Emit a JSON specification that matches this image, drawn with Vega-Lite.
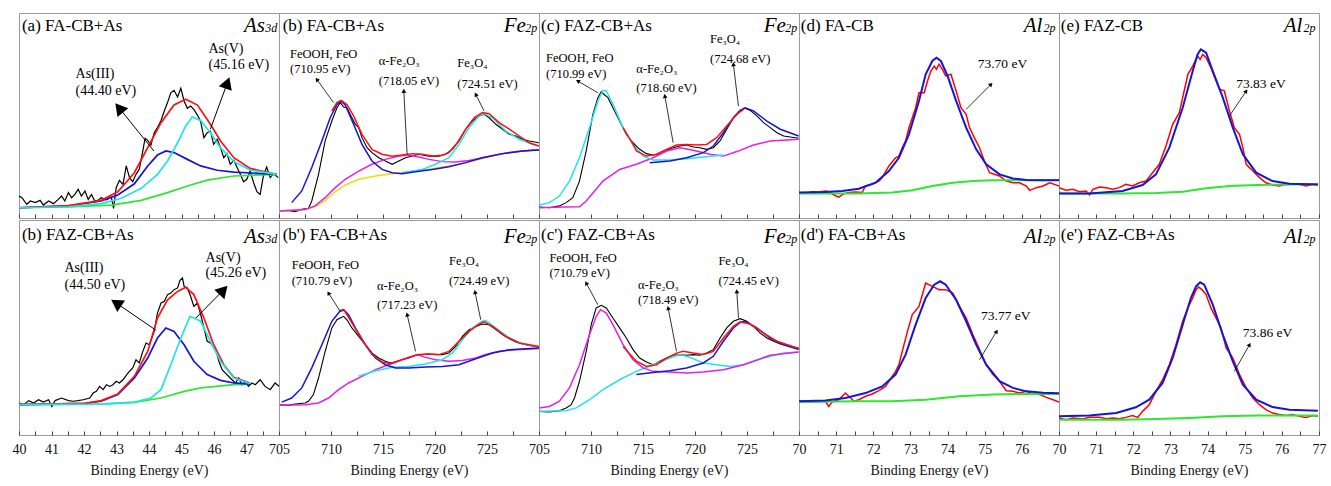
{
"$schema":"https://vega.github.io/schema/vega-lite/v6.json",
"background":"white",
"padding":{"left":11,"top":12,"right":0,"bottom":0},
"config":{"view":{"stroke":"#9a9a9a","strokeWidth":1},"axis":{"grid":false,"domain":false,"tickColor":"#444","tickWidth":1,"tickSize":-4,"labelFont":"Liberation Serif","labelFontSize":14,"labelColor":"#111","titleFont":"Liberation Serif","titleFontSize":14,"titleFontWeight":"normal","titleColor":"#111","labelFlush":false,"labelOverlap":false,"labelBound":false,"labelPadding":11,"titlePadding":7,"format":"d"}},
"datasets":{
"L":[
{"p":1,"s":"k","x":40.00,"y":10.7},{"p":1,"s":"k","x":40.09,"y":9.9},{"p":1,"s":"k","x":40.24,"y":6.7},{"p":1,"s":"k","x":40.35,"y":8.3},{"p":1,"s":"k","x":40.50,"y":7.5},{"p":1,"s":"k","x":40.65,"y":8.6},{"p":1,"s":"k","x":40.75,"y":6.3},{"p":1,"s":"k","x":40.91,"y":8.3},{"p":1,"s":"k","x":41.06,"y":7.0},{"p":1,"s":"k","x":41.21,"y":9.1},{"p":1,"s":"k","x":41.31,"y":10.7},{"p":1,"s":"k","x":41.41,"y":8.3},{"p":1,"s":"k","x":41.52,"y":12.4},{"p":1,"s":"k","x":41.62,"y":9.9},{"p":1,"s":"k","x":41.72,"y":11.5},{"p":1,"s":"k","x":41.82,"y":14.0},{"p":1,"s":"k","x":41.92,"y":10.7},{"p":1,"s":"k","x":42.03,"y":13.2},{"p":1,"s":"k","x":42.13,"y":9.1},{"p":1,"s":"k","x":42.23,"y":11.5},{"p":1,"s":"k","x":42.33,"y":8.3},{"p":1,"s":"k","x":42.43,"y":8.6},{"p":1,"s":"k","x":42.53,"y":9.9},{"p":1,"s":"k","x":42.69,"y":8.9},{"p":1,"s":"k","x":42.84,"y":10.2},{"p":1,"s":"k","x":42.91,"y":4.7},{"p":1,"s":"k","x":42.99,"y":14.8},{"p":1,"s":"k","x":43.09,"y":18.4},{"p":1,"s":"k","x":43.20,"y":16.4},{"p":1,"s":"k","x":43.30,"y":25.4},{"p":1,"s":"k","x":43.40,"y":19.7},{"p":1,"s":"k","x":43.50,"y":17.7},{"p":1,"s":"k","x":43.60,"y":21.3},{"p":1,"s":"k","x":43.70,"y":23.7},{"p":1,"s":"k","x":43.81,"y":32.7},{"p":1,"s":"k","x":43.88,"y":38.9},{"p":1,"s":"k","x":43.96,"y":37.9},{"p":1,"s":"k","x":44.06,"y":35.6},{"p":1,"s":"k","x":44.16,"y":41.6},{"p":1,"s":"k","x":44.26,"y":44.1},{"p":1,"s":"k","x":44.37,"y":47.6},{"p":1,"s":"k","x":44.47,"y":52.2},{"p":1,"s":"k","x":44.57,"y":56.3},{"p":1,"s":"k","x":44.67,"y":61.1},{"p":1,"s":"k","x":44.77,"y":62.3},{"p":1,"s":"k","x":44.88,"y":59.0},{"p":1,"s":"k","x":44.98,"y":63.3},{"p":1,"s":"k","x":45.08,"y":57.1},{"p":1,"s":"k","x":45.18,"y":53.5},{"p":1,"s":"k","x":45.28,"y":54.6},{"p":1,"s":"k","x":45.38,"y":53.0},{"p":1,"s":"k","x":45.49,"y":50.2},{"p":1,"s":"k","x":45.59,"y":47.0},{"p":1,"s":"k","x":45.69,"y":39.2},{"p":1,"s":"k","x":45.79,"y":41.6},{"p":1,"s":"k","x":45.89,"y":42.4},{"p":1,"s":"k","x":45.99,"y":35.9},{"p":1,"s":"k","x":46.10,"y":38.4},{"p":1,"s":"k","x":46.20,"y":34.3},{"p":1,"s":"k","x":46.30,"y":29.4},{"p":1,"s":"k","x":46.40,"y":31.4},{"p":1,"s":"k","x":46.50,"y":26.2},{"p":1,"s":"k","x":46.61,"y":28.1},{"p":1,"s":"k","x":46.71,"y":24.6},{"p":1,"s":"k","x":46.81,"y":21.3},{"p":1,"s":"k","x":46.91,"y":17.7},{"p":1,"s":"k","x":47.01,"y":18.9},{"p":1,"s":"k","x":47.11,"y":22.9},{"p":1,"s":"k","x":47.22,"y":17.2},{"p":1,"s":"k","x":47.32,"y":12.8},{"p":1,"s":"k","x":47.42,"y":11.5},{"p":1,"s":"k","x":47.52,"y":20.5},{"p":1,"s":"k","x":47.62,"y":24.9},{"p":1,"s":"k","x":47.73,"y":19.7},{"p":1,"s":"k","x":47.83,"y":21.6},{"p":1,"s":"k","x":47.98,"y":19.7},
{"p":1,"s":"g","x":40,"y":5.0},{"p":1,"s":"g","x":41.52,"y":5.4},{"p":1,"s":"g","x":42.84,"y":6.3},{"p":1,"s":"g","x":43.76,"y":8.6},{"p":1,"s":"g","x":44.57,"y":12.4},{"p":1,"s":"g","x":45.18,"y":15.6},{"p":1,"s":"g","x":45.79,"y":18.5},{"p":1,"s":"g","x":46.61,"y":20.5},{"p":1,"s":"g","x":47.93,"y":21.3},
{"p":1,"s":"b","x":40,"y":5.0},{"p":1,"s":"b","x":41.52,"y":5.9},{"p":1,"s":"b","x":42.53,"y":8.3},{"p":1,"s":"b","x":43.04,"y":11.2},{"p":1,"s":"b","x":43.55,"y":16.7},{"p":1,"s":"b","x":43.96,"y":25.4},{"p":1,"s":"b","x":44.26,"y":30.7},{"p":1,"s":"b","x":44.52,"y":32.7},{"p":1,"s":"b","x":44.77,"y":31.9},{"p":1,"s":"b","x":45.18,"y":28.6},{"p":1,"s":"b","x":45.59,"y":25.4},{"p":1,"s":"b","x":46.10,"y":23.3},{"p":1,"s":"b","x":46.61,"y":22.4},{"p":1,"s":"b","x":47.93,"y":21.3},
{"p":1,"s":"r","x":40,"y":5.0},{"p":1,"s":"r","x":41.52,"y":6.0},{"p":1,"s":"r","x":42.53,"y":8.6},{"p":1,"s":"r","x":43.04,"y":12.8},{"p":1,"s":"r","x":43.55,"y":22.1},{"p":1,"s":"r","x":43.96,"y":34.3},{"p":1,"s":"r","x":44.37,"y":46.5},{"p":1,"s":"r","x":44.77,"y":55.1},{"p":1,"s":"r","x":45.13,"y":57.9},{"p":1,"s":"r","x":45.49,"y":55.1},{"p":1,"s":"r","x":45.89,"y":45.7},{"p":1,"s":"r","x":46.20,"y":37.6},{"p":1,"s":"r","x":46.61,"y":29.4},{"p":1,"s":"r","x":47.11,"y":24.2},{"p":1,"s":"r","x":47.93,"y":21.3},
{"p":1,"s":"c","x":40,"y":5.0},{"p":1,"s":"c","x":41.52,"y":5.5},{"p":1,"s":"c","x":42.53,"y":7.0},{"p":1,"s":"c","x":43.15,"y":9.6},{"p":1,"s":"c","x":43.76,"y":14.5},{"p":1,"s":"c","x":44.26,"y":21.3},{"p":1,"s":"c","x":44.57,"y":27.8},{"p":1,"s":"c","x":44.88,"y":36.7},{"p":1,"s":"c","x":45.13,"y":44.9},{"p":1,"s":"c","x":45.33,"y":49.3},{"p":1,"s":"c","x":45.59,"y":47.6},{"p":1,"s":"c","x":45.89,"y":41.6},{"p":1,"s":"c","x":46.20,"y":34.3},{"p":1,"s":"c","x":46.61,"y":27.5},{"p":1,"s":"c","x":47.11,"y":23.4},{"p":1,"s":"c","x":47.93,"y":21.3},

{"p":6,"s":"k","x":40.00,"y":14.9},{"p":6,"s":"k","x":40.14,"y":14.1},{"p":6,"s":"k","x":40.30,"y":16.0},{"p":6,"s":"k","x":40.45,"y":14.9},{"p":6,"s":"k","x":40.60,"y":16.4},{"p":6,"s":"k","x":40.75,"y":15.3},{"p":6,"s":"k","x":40.91,"y":16.4},{"p":6,"s":"k","x":41.01,"y":13.3},{"p":6,"s":"k","x":41.11,"y":16.0},{"p":6,"s":"k","x":41.31,"y":17.2},{"p":6,"s":"k","x":41.52,"y":16.0},{"p":6,"s":"k","x":41.67,"y":15.7},{"p":6,"s":"k","x":41.82,"y":16.0},{"p":6,"s":"k","x":41.97,"y":16.4},{"p":6,"s":"k","x":42.18,"y":17.2},{"p":6,"s":"k","x":42.28,"y":19.5},{"p":6,"s":"k","x":42.38,"y":20.3},{"p":6,"s":"k","x":42.48,"y":22.6},{"p":6,"s":"k","x":42.59,"y":21.1},{"p":6,"s":"k","x":42.69,"y":23.4},{"p":6,"s":"k","x":42.79,"y":22.6},{"p":6,"s":"k","x":42.89,"y":23.4},{"p":6,"s":"k","x":42.99,"y":25.0},{"p":6,"s":"k","x":43.09,"y":24.2},{"p":6,"s":"k","x":43.20,"y":25.7},{"p":6,"s":"k","x":43.35,"y":28.8},{"p":6,"s":"k","x":43.50,"y":31.2},{"p":6,"s":"k","x":43.60,"y":35.0},{"p":6,"s":"k","x":43.70,"y":33.5},{"p":6,"s":"k","x":43.81,"y":38.9},{"p":6,"s":"k","x":43.91,"y":42.8},{"p":6,"s":"k","x":44.01,"y":42.0},{"p":6,"s":"k","x":44.16,"y":48.2},{"p":6,"s":"k","x":44.26,"y":56.7},{"p":6,"s":"k","x":44.37,"y":61.4},{"p":6,"s":"k","x":44.47,"y":62.2},{"p":6,"s":"k","x":44.57,"y":65.3},{"p":6,"s":"k","x":44.67,"y":66.0},{"p":6,"s":"k","x":44.77,"y":67.6},{"p":6,"s":"k","x":44.88,"y":68.4},{"p":6,"s":"k","x":44.95,"y":71.8},{"p":6,"s":"k","x":45.03,"y":73.0},{"p":6,"s":"k","x":45.08,"y":69.1},{"p":6,"s":"k","x":45.18,"y":68.4},{"p":6,"s":"k","x":45.28,"y":64.5},{"p":6,"s":"k","x":45.38,"y":59.8},{"p":6,"s":"k","x":45.49,"y":61.4},{"p":6,"s":"k","x":45.59,"y":56.0},{"p":6,"s":"k","x":45.69,"y":49.8},{"p":6,"s":"k","x":45.79,"y":43.6},{"p":6,"s":"k","x":45.89,"y":42.8},{"p":6,"s":"k","x":46.05,"y":39.7},{"p":6,"s":"k","x":46.15,"y":34.3},{"p":6,"s":"k","x":46.25,"y":30.4},{"p":6,"s":"k","x":46.35,"y":28.8},{"p":6,"s":"k","x":46.50,"y":26.5},{"p":6,"s":"k","x":46.66,"y":24.2},{"p":6,"s":"k","x":46.76,"y":26.5},{"p":6,"s":"k","x":46.86,"y":23.4},{"p":6,"s":"k","x":46.96,"y":24.7},{"p":6,"s":"k","x":47.06,"y":22.6},{"p":6,"s":"k","x":47.17,"y":24.2},{"p":6,"s":"k","x":47.27,"y":23.4},{"p":6,"s":"k","x":47.42,"y":25.7},{"p":6,"s":"k","x":47.57,"y":22.6},{"p":6,"s":"k","x":47.73,"y":21.1},{"p":6,"s":"k","x":47.88,"y":24.2},{"p":6,"s":"k","x":48.00,"y":22.6},
{"p":6,"s":"g","x":40,"y":14.1},{"p":6,"s":"g","x":42.53,"y":14.4},{"p":6,"s":"g","x":43.55,"y":15.2},{"p":6,"s":"g","x":44.37,"y":17.2},{"p":6,"s":"g","x":45.08,"y":20.3},{"p":6,"s":"g","x":45.59,"y":21.9},{"p":6,"s":"g","x":46.61,"y":23.4},{"p":6,"s":"g","x":47.11,"y":23.7},
{"p":6,"s":"b","x":40,"y":14.1},{"p":6,"s":"b","x":42.03,"y":14.7},{"p":6,"s":"b","x":42.53,"y":15.7},{"p":6,"s":"b","x":43.04,"y":18.8},{"p":6,"s":"b","x":43.55,"y":26.5},{"p":6,"s":"b","x":43.96,"y":35.8},{"p":6,"s":"b","x":44.26,"y":45.1},{"p":6,"s":"b","x":44.52,"y":49.8},{"p":6,"s":"b","x":44.77,"y":48.2},{"p":6,"s":"b","x":45.08,"y":42.0},{"p":6,"s":"b","x":45.38,"y":34.3},{"p":6,"s":"b","x":45.79,"y":28.1},{"p":6,"s":"b","x":46.20,"y":25.4},{"p":6,"s":"b","x":46.61,"y":24.2},{"p":6,"s":"b","x":47.11,"y":23.7},
{"p":6,"s":"r","x":40,"y":14.1},{"p":6,"s":"r","x":42.03,"y":14.7},{"p":6,"s":"r","x":42.53,"y":16.0},{"p":6,"s":"r","x":43.04,"y":19.1},{"p":6,"s":"r","x":43.55,"y":27.3},{"p":6,"s":"r","x":43.96,"y":38.9},{"p":6,"s":"r","x":44.26,"y":54.4},{"p":6,"s":"r","x":44.57,"y":62.9},{"p":6,"s":"r","x":44.88,"y":66.8},{"p":6,"s":"r","x":45.13,"y":68.7},{"p":6,"s":"r","x":45.38,"y":65.3},{"p":6,"s":"r","x":45.69,"y":54.4},{"p":6,"s":"r","x":45.99,"y":42.0},{"p":6,"s":"r","x":46.30,"y":32.7},{"p":6,"s":"r","x":46.61,"y":26.8},{"p":6,"s":"r","x":47.11,"y":24.2},
{"p":6,"s":"c","x":40,"y":14.1},{"p":6,"s":"c","x":42.53,"y":14.4},{"p":6,"s":"c","x":43.55,"y":15.3},{"p":6,"s":"c","x":44.06,"y":17.2},{"p":6,"s":"c","x":44.37,"y":21.1},{"p":6,"s":"c","x":44.67,"y":32.7},{"p":6,"s":"c","x":44.98,"y":45.1},{"p":6,"s":"c","x":45.26,"y":55.2},{"p":6,"s":"c","x":45.59,"y":52.9},{"p":6,"s":"c","x":45.89,"y":43.6},{"p":6,"s":"c","x":46.20,"y":34.3},{"p":6,"s":"c","x":46.61,"y":26.5},{"p":6,"s":"c","x":47.11,"y":23.9},

{"p":2,"s":"k","x":705.10,"y":3.4},{"p":2,"s":"k","x":705.90,"y":3.7},{"p":2,"s":"k","x":706.54,"y":3.1},{"p":2,"s":"k","x":707.19,"y":4.2},{"p":2,"s":"k","x":707.83,"y":4.7},{"p":2,"s":"k","x":708.15,"y":8.3},{"p":2,"s":"k","x":708.80,"y":21.3},{"p":2,"s":"k","x":709.44,"y":37.6},{"p":2,"s":"k","x":710.08,"y":47.3},{"p":2,"s":"k","x":710.57,"y":53.8},{"p":2,"s":"k","x":710.89,"y":56.3},{"p":2,"s":"k","x":711.21,"y":54.1},{"p":2,"s":"k","x":711.53,"y":53.8},{"p":2,"s":"k","x":712.01,"y":48.9},{"p":2,"s":"k","x":712.34,"y":45.7},{"p":2,"s":"k","x":712.66,"y":44.1},{"p":2,"s":"k","x":712.98,"y":39.2},{"p":2,"s":"k","x":713.46,"y":34.3},{"p":2,"s":"k","x":713.94,"y":31.9},{"p":2,"s":"k","x":714.59,"y":29.4},{"p":2,"s":"k","x":715.23,"y":27.8},{"p":2,"s":"k","x":715.88,"y":26.2},{"p":2,"s":"k","x":716.52,"y":27.8},{"p":2,"s":"k","x":717.16,"y":29.4},{"p":2,"s":"k","x":717.81,"y":30.2},{"p":2,"s":"k","x":718.45,"y":31.1},{"p":2,"s":"k","x":719.41,"y":30.2},{"p":2,"s":"k","x":720.38,"y":30.2},{"p":2,"s":"k","x":721.02,"y":31.1},{"p":2,"s":"k","x":721.67,"y":33.5},{"p":2,"s":"k","x":722.31,"y":37.6},{"p":2,"s":"k","x":722.95,"y":43.3},{"p":2,"s":"k","x":723.60,"y":47.3},{"p":2,"s":"k","x":724.24,"y":49.8},{"p":2,"s":"k","x":724.72,"y":50.6},{"p":2,"s":"k","x":725.21,"y":48.9},{"p":2,"s":"k","x":725.85,"y":45.7},{"p":2,"s":"k","x":726.49,"y":43.3},{"p":2,"s":"k","x":727.14,"y":40.8},{"p":2,"s":"k","x":727.78,"y":40.0},{"p":2,"s":"k","x":728.42,"y":38.4},{"p":2,"s":"k","x":729.07,"y":37.6},{"p":2,"s":"k","x":730.00,"y":36.7},
{"p":2,"s":"y","x":705.10,"y":3.4},{"p":2,"s":"y","x":707.51,"y":4.1},{"p":2,"s":"y","x":708.47,"y":5.4},{"p":2,"s":"y","x":709.44,"y":8.6},{"p":2,"s":"y","x":710.41,"y":12.8},{"p":2,"s":"y","x":711.37,"y":16.1},{"p":2,"s":"y","x":712.66,"y":18.9},{"p":2,"s":"y","x":714.27,"y":20.5},{"p":2,"s":"y","x":715.88,"y":21.6},{"p":2,"s":"y","x":717.48,"y":22.6},{"p":2,"s":"y","x":719.09,"y":23.6},{"p":2,"s":"y","x":720.70,"y":24.9},{"p":2,"s":"y","x":722.31,"y":26.2},{"p":2,"s":"y","x":723.92,"y":28.1},{"p":2,"s":"y","x":725.21,"y":29.9},{"p":2,"s":"y","x":726.49,"y":31.4},{"p":2,"s":"y","x":727.78,"y":32.4},{"p":2,"s":"y","x":729.07,"y":33.0},{"p":2,"s":"y","x":730.00,"y":33.3},
{"p":2,"s":"m","x":705.10,"y":3.4},{"p":2,"s":"m","x":707.51,"y":4.2},{"p":2,"s":"m","x":708.47,"y":5.9},{"p":2,"s":"m","x":709.44,"y":9.9},{"p":2,"s":"m","x":710.41,"y":14.8},{"p":2,"s":"m","x":711.37,"y":18.9},{"p":2,"s":"m","x":712.66,"y":22.9},{"p":2,"s":"m","x":713.94,"y":26.2},{"p":2,"s":"m","x":715.23,"y":28.6},{"p":2,"s":"m","x":716.52,"y":30.2},{"p":2,"s":"m","x":717.48,"y":30.7},{"p":2,"s":"m","x":718.45,"y":29.8},{"p":2,"s":"m","x":719.41,"y":28.6},{"p":2,"s":"m","x":720.70,"y":27.5},{"p":2,"s":"m","x":721.99,"y":27.3},{"p":2,"s":"m","x":723.28,"y":28.1},{"p":2,"s":"m","x":724.56,"y":29.4},{"p":2,"s":"m","x":725.85,"y":30.7},{"p":2,"s":"m","x":727.14,"y":31.9},{"p":2,"s":"m","x":728.42,"y":32.7},{"p":2,"s":"m","x":730.00,"y":33.3},
{"p":2,"s":"c","x":716.84,"y":22.1},{"p":2,"s":"c","x":718.77,"y":23.7},{"p":2,"s":"c","x":720.06,"y":26.2},{"p":2,"s":"c","x":721.34,"y":29.4},{"p":2,"s":"c","x":722.31,"y":35.9},{"p":2,"s":"c","x":723.28,"y":44.1},{"p":2,"s":"c","x":724.24,"y":49.8},{"p":2,"s":"c","x":724.72,"y":50.9},{"p":2,"s":"c","x":725.53,"y":48.9},{"p":2,"s":"c","x":726.81,"y":42.4},{"p":2,"s":"c","x":728.10,"y":38.4},{"p":2,"s":"c","x":729.39,"y":35.9},{"p":2,"s":"c","x":730.00,"y":35.1},
{"p":2,"s":"b","x":706.22,"y":7.5},{"p":2,"s":"b","x":707.19,"y":13.2},{"p":2,"s":"b","x":708.15,"y":24.6},{"p":2,"s":"b","x":709.12,"y":37.6},{"p":2,"s":"b","x":709.92,"y":48.9},{"p":2,"s":"b","x":710.57,"y":55.4},{"p":2,"s":"b","x":710.95,"y":57.1},{"p":2,"s":"b","x":711.37,"y":55.1},{"p":2,"s":"b","x":712.17,"y":45.7},{"p":2,"s":"b","x":712.98,"y":35.9},{"p":2,"s":"b","x":713.94,"y":27.8},{"p":2,"s":"b","x":714.91,"y":23.7},{"p":2,"s":"b","x":715.88,"y":22.1},{"p":2,"s":"b","x":716.84,"y":21.6},{"p":2,"s":"b","x":718.13,"y":22.6},{"p":2,"s":"b","x":719.74,"y":23.7},{"p":2,"s":"b","x":721.34,"y":25.0},{"p":2,"s":"b","x":722.95,"y":27.0},{"p":2,"s":"b","x":724.56,"y":29.4},{"p":2,"s":"b","x":726.49,"y":31.4},{"p":2,"s":"b","x":728.42,"y":32.7},{"p":2,"s":"b","x":730.00,"y":33.2},
{"p":2,"s":"r","x":710.08,"y":52.2},{"p":2,"s":"r","x":710.57,"y":56.3},{"p":2,"s":"r","x":710.98,"y":57.4},{"p":2,"s":"r","x":711.53,"y":55.4},{"p":2,"s":"r","x":712.17,"y":49.8},{"p":2,"s":"r","x":712.98,"y":40.8},{"p":2,"s":"r","x":713.94,"y":33.5},{"p":2,"s":"r","x":714.91,"y":31.1},{"p":2,"s":"r","x":715.88,"y":30.1},{"p":2,"s":"r","x":716.84,"y":30.7},{"p":2,"s":"r","x":717.81,"y":31.4},{"p":2,"s":"r","x":718.77,"y":31.1},{"p":2,"s":"r","x":719.74,"y":30.2},{"p":2,"s":"r","x":720.70,"y":30.6},{"p":2,"s":"r","x":721.34,"y":31.9},{"p":2,"s":"r","x":722.15,"y":36.7},{"p":2,"s":"r","x":722.95,"y":43.3},{"p":2,"s":"r","x":723.76,"y":48.9},{"p":2,"s":"r","x":724.56,"y":51.4},{"p":2,"s":"r","x":725.21,"y":50.9},{"p":2,"s":"r","x":726.17,"y":46.5},{"p":2,"s":"r","x":727.14,"y":43.3},{"p":2,"s":"r","x":728.10,"y":40.0},{"p":2,"s":"r","x":729.07,"y":36.7},{"p":2,"s":"r","x":730.00,"y":35.1},

{"p":7,"s":"k","x":705.10,"y":14.1},{"p":7,"s":"k","x":705.90,"y":13.8},{"p":7,"s":"k","x":706.54,"y":14.4},{"p":7,"s":"k","x":707.51,"y":14.9},{"p":7,"s":"k","x":707.83,"y":15.7},{"p":7,"s":"k","x":708.31,"y":18.8},{"p":7,"s":"k","x":708.80,"y":26.5},{"p":7,"s":"k","x":709.44,"y":38.9},{"p":7,"s":"k","x":710.08,"y":49.8},{"p":7,"s":"k","x":710.57,"y":53.6},{"p":7,"s":"k","x":710.89,"y":54.4},{"p":7,"s":"k","x":711.21,"y":55.2},{"p":7,"s":"k","x":711.53,"y":53.6},{"p":7,"s":"k","x":712.01,"y":49.8},{"p":7,"s":"k","x":712.66,"y":45.9},{"p":7,"s":"k","x":713.30,"y":42.0},{"p":7,"s":"k","x":713.94,"y":38.1},{"p":7,"s":"k","x":714.59,"y":35.8},{"p":7,"s":"k","x":715.23,"y":34.3},{"p":7,"s":"k","x":715.71,"y":33.5},{"p":7,"s":"k","x":716.20,"y":34.0},{"p":7,"s":"k","x":716.84,"y":35.0},{"p":7,"s":"k","x":717.48,"y":35.8},{"p":7,"s":"k","x":718.13,"y":37.1},{"p":7,"s":"k","x":718.77,"y":37.4},{"p":7,"s":"k","x":719.41,"y":37.7},{"p":7,"s":"k","x":720.06,"y":37.4},{"p":7,"s":"k","x":720.70,"y":37.4},{"p":7,"s":"k","x":721.34,"y":38.1},{"p":7,"s":"k","x":721.99,"y":41.2},{"p":7,"s":"k","x":722.63,"y":45.9},{"p":7,"s":"k","x":723.28,"y":49.0},{"p":7,"s":"k","x":723.92,"y":50.5},{"p":7,"s":"k","x":724.56,"y":51.6},{"p":7,"s":"k","x":725.21,"y":51.3},{"p":7,"s":"k","x":725.85,"y":49.0},{"p":7,"s":"k","x":726.49,"y":46.7},{"p":7,"s":"k","x":727.14,"y":44.8},{"p":7,"s":"k","x":727.78,"y":43.3},{"p":7,"s":"k","x":728.42,"y":42.3},{"p":7,"s":"k","x":729.07,"y":41.6},{"p":7,"s":"k","x":730.00,"y":40.8},
{"p":7,"s":"m","x":705.10,"y":13.8},{"p":7,"s":"m","x":707.51,"y":14.1},{"p":7,"s":"m","x":708.80,"y":14.9},{"p":7,"s":"m","x":709.76,"y":17.2},{"p":7,"s":"m","x":710.73,"y":21.1},{"p":7,"s":"m","x":711.69,"y":24.2},{"p":7,"s":"m","x":712.98,"y":27.3},{"p":7,"s":"m","x":714.27,"y":30.4},{"p":7,"s":"m","x":715.55,"y":32.7},{"p":7,"s":"m","x":716.84,"y":35.0},{"p":7,"s":"m","x":718.29,"y":37.4},{"p":7,"s":"m","x":719.09,"y":36.1},{"p":7,"s":"m","x":720.06,"y":35.0},{"p":7,"s":"m","x":721.34,"y":34.3},{"p":7,"s":"m","x":722.63,"y":34.6},{"p":7,"s":"m","x":723.92,"y":35.8},{"p":7,"s":"m","x":724.88,"y":37.4},{"p":7,"s":"m","x":726.17,"y":38.9},{"p":7,"s":"m","x":727.78,"y":39.7},{"p":7,"s":"m","x":730.00,"y":40.2},
{"p":7,"s":"c","x":712.66,"y":27.3},{"p":7,"s":"c","x":714.27,"y":29.9},{"p":7,"s":"c","x":715.88,"y":31.5},{"p":7,"s":"c","x":717.48,"y":31.9},{"p":7,"s":"c","x":719.09,"y":33.0},{"p":7,"s":"c","x":720.70,"y":35.0},{"p":7,"s":"c","x":721.67,"y":38.1},{"p":7,"s":"c","x":722.63,"y":44.3},{"p":7,"s":"c","x":723.60,"y":49.8},{"p":7,"s":"c","x":724.56,"y":52.9},{"p":7,"s":"c","x":724.88,"y":53.2},{"p":7,"s":"c","x":725.85,"y":49.8},{"p":7,"s":"c","x":727.14,"y":45.1},{"p":7,"s":"c","x":728.42,"y":42.3},{"p":7,"s":"c","x":730.00,"y":41.1},
{"p":7,"s":"b","x":705.26,"y":15.3},{"p":7,"s":"b","x":706.22,"y":17.2},{"p":7,"s":"b","x":707.19,"y":21.9},{"p":7,"s":"b","x":708.15,"y":31.2},{"p":7,"s":"b","x":709.12,"y":42.0},{"p":7,"s":"b","x":710.08,"y":52.9},{"p":7,"s":"b","x":710.89,"y":57.8},{"p":7,"s":"b","x":711.21,"y":58.3},{"p":7,"s":"b","x":711.69,"y":56.0},{"p":7,"s":"b","x":712.34,"y":49.8},{"p":7,"s":"b","x":713.30,"y":42.0},{"p":7,"s":"b","x":714.27,"y":35.8},{"p":7,"s":"b","x":715.23,"y":32.7},{"p":7,"s":"b","x":716.20,"y":31.2},{"p":7,"s":"b","x":717.48,"y":31.2},{"p":7,"s":"b","x":719.09,"y":31.6},{"p":7,"s":"b","x":720.70,"y":31.9},{"p":7,"s":"b","x":722.31,"y":32.7},{"p":7,"s":"b","x":723.92,"y":35.5},{"p":7,"s":"b","x":725.53,"y":38.1},{"p":7,"s":"b","x":727.14,"y":39.7},{"p":7,"s":"b","x":730.00,"y":40.5},
{"p":7,"s":"r","x":710.89,"y":57.5},{"p":7,"s":"r","x":711.27,"y":58.0},{"p":7,"s":"r","x":712.01,"y":52.1},{"p":7,"s":"r","x":712.98,"y":44.3},{"p":7,"s":"r","x":713.94,"y":37.4},{"p":7,"s":"r","x":714.91,"y":34.0},{"p":7,"s":"r","x":715.71,"y":33.2},{"p":7,"s":"r","x":716.52,"y":34.6},{"p":7,"s":"r","x":717.48,"y":36.1},{"p":7,"s":"r","x":718.45,"y":37.4},{"p":7,"s":"r","x":719.41,"y":37.7},{"p":7,"s":"r","x":720.38,"y":37.4},{"p":7,"s":"r","x":721.34,"y":38.9},{"p":7,"s":"r","x":722.31,"y":43.6},{"p":7,"s":"r","x":723.28,"y":48.2},{"p":7,"s":"r","x":724.24,"y":51.6},{"p":7,"s":"r","x":724.72,"y":52.6},{"p":7,"s":"r","x":725.53,"y":50.5},{"p":7,"s":"r","x":726.81,"y":45.9},{"p":7,"s":"r","x":728.10,"y":42.8},{"p":7,"s":"r","x":730.00,"y":41.1},

{"p":3,"s":"k","x":705.03,"y":5.4},{"p":3,"s":"k","x":706.00,"y":5.0},{"p":3,"s":"k","x":706.96,"y":5.9},{"p":3,"s":"k","x":707.61,"y":7.5},{"p":3,"s":"k","x":708.25,"y":9.9},{"p":3,"s":"k","x":708.89,"y":18.0},{"p":3,"s":"k","x":709.54,"y":32.7},{"p":3,"s":"k","x":710.18,"y":50.6},{"p":3,"s":"k","x":710.66,"y":58.7},{"p":3,"s":"k","x":710.98,"y":61.6},{"p":3,"s":"k","x":711.31,"y":60.0},{"p":3,"s":"k","x":711.63,"y":58.7},{"p":3,"s":"k","x":712.11,"y":53.8},{"p":3,"s":"k","x":712.75,"y":47.3},{"p":3,"s":"k","x":713.40,"y":40.8},{"p":3,"s":"k","x":714.04,"y":36.7},{"p":3,"s":"k","x":714.68,"y":33.5},{"p":3,"s":"k","x":715.33,"y":31.4},{"p":3,"s":"k","x":715.97,"y":30.7},{"p":3,"s":"k","x":716.62,"y":31.1},{"p":3,"s":"k","x":717.26,"y":33.0},{"p":3,"s":"k","x":717.90,"y":34.3},{"p":3,"s":"k","x":718.55,"y":35.1},{"p":3,"s":"k","x":719.19,"y":35.6},{"p":3,"s":"k","x":719.83,"y":34.6},{"p":3,"s":"k","x":720.48,"y":34.3},{"p":3,"s":"k","x":721.12,"y":33.5},{"p":3,"s":"k","x":721.76,"y":34.3},{"p":3,"s":"k","x":722.41,"y":37.6},{"p":3,"s":"k","x":723.05,"y":43.3},{"p":3,"s":"k","x":723.69,"y":48.9},{"p":3,"s":"k","x":724.34,"y":52.2},{"p":3,"s":"k","x":724.82,"y":53.5},{"p":3,"s":"k","x":725.30,"y":52.5},{"p":3,"s":"k","x":725.95,"y":49.8},{"p":3,"s":"k","x":726.59,"y":46.5},{"p":3,"s":"k","x":727.23,"y":44.1},{"p":3,"s":"k","x":727.88,"y":41.6},{"p":3,"s":"k","x":728.52,"y":40.0},{"p":3,"s":"k","x":729.16,"y":39.5},{"p":3,"s":"k","x":729.97,"y":38.9},
{"p":3,"s":"m","x":705.03,"y":5.0},{"p":3,"s":"m","x":707.28,"y":5.4},{"p":3,"s":"m","x":708.89,"y":5.5},{"p":3,"s":"m","x":709.54,"y":8.3},{"p":3,"s":"m","x":711.15,"y":18.0},{"p":3,"s":"m","x":712.75,"y":23.7},{"p":3,"s":"m","x":714.36,"y":26.2},{"p":3,"s":"m","x":715.97,"y":29.4},{"p":3,"s":"m","x":717.26,"y":32.7},{"p":3,"s":"m","x":718.55,"y":34.3},{"p":3,"s":"m","x":719.83,"y":33.0},{"p":3,"s":"m","x":721.44,"y":31.1},{"p":3,"s":"m","x":722.73,"y":30.2},{"p":3,"s":"m","x":724.02,"y":32.4},{"p":3,"s":"m","x":725.62,"y":35.6},{"p":3,"s":"m","x":727.23,"y":37.6},{"p":3,"s":"m","x":729.97,"y":38.4},
{"p":3,"s":"c","x":705.03,"y":6.3},{"p":3,"s":"c","x":706.00,"y":7.5},{"p":3,"s":"c","x":706.96,"y":10.7},{"p":3,"s":"c","x":707.93,"y":18.0},{"p":3,"s":"c","x":708.89,"y":29.4},{"p":3,"s":"c","x":709.86,"y":44.1},{"p":3,"s":"c","x":710.66,"y":57.1},{"p":3,"s":"c","x":711.15,"y":62.3},{"p":3,"s":"c","x":711.47,"y":62.0},{"p":3,"s":"c","x":712.11,"y":55.4},{"p":3,"s":"c","x":713.08,"y":44.1},{"p":3,"s":"c","x":714.04,"y":35.9},{"p":3,"s":"c","x":715.01,"y":30.2},{"p":3,"s":"c","x":715.97,"y":28.3},{"p":3,"s":"c","x":717.58,"y":28.3},{"p":3,"s":"c","x":719.19,"y":28.9},{"p":3,"s":"c","x":720.80,"y":29.8},{"p":3,"s":"c","x":722.73,"y":30.7},
{"p":3,"s":"b","x":715.65,"y":27.0},{"p":3,"s":"b","x":717.58,"y":27.8},{"p":3,"s":"b","x":719.19,"y":29.4},{"p":3,"s":"b","x":720.80,"y":31.9},{"p":3,"s":"b","x":721.76,"y":35.1},{"p":3,"s":"b","x":722.73,"y":41.6},{"p":3,"s":"b","x":723.69,"y":48.9},{"p":3,"s":"b","x":724.34,"y":52.5},{"p":3,"s":"b","x":724.82,"y":53.8},{"p":3,"s":"b","x":725.62,"y":52.2},{"p":3,"s":"b","x":726.91,"y":47.3},{"p":3,"s":"b","x":728.20,"y":43.3},{"p":3,"s":"b","x":729.97,"y":40.0},
{"p":3,"s":"r","x":713.08,"y":44.1},{"p":3,"s":"r","x":714.04,"y":35.9},{"p":3,"s":"r","x":714.36,"y":32.7},{"p":3,"s":"r","x":715.33,"y":30.2},{"p":3,"s":"r","x":716.29,"y":31.1},{"p":3,"s":"r","x":717.26,"y":33.5},{"p":3,"s":"r","x":718.22,"y":35.6},{"p":3,"s":"r","x":719.19,"y":35.9},{"p":3,"s":"r","x":720.15,"y":35.6},{"p":3,"s":"r","x":721.12,"y":35.9},{"p":3,"s":"r","x":722.08,"y":39.2},{"p":3,"s":"r","x":723.05,"y":44.9},{"p":3,"s":"r","x":724.02,"y":50.6},{"p":3,"s":"r","x":724.66,"y":53.0},

{"p":8,"s":"k","x":705.03,"y":11.0},{"p":8,"s":"k","x":706.00,"y":10.7},{"p":8,"s":"k","x":706.96,"y":11.3},{"p":8,"s":"k","x":707.61,"y":12.6},{"p":8,"s":"k","x":708.09,"y":14.1},{"p":8,"s":"k","x":708.41,"y":17.2},{"p":8,"s":"k","x":708.89,"y":25.0},{"p":8,"s":"k","x":709.54,"y":38.9},{"p":8,"s":"k","x":710.02,"y":51.3},{"p":8,"s":"k","x":710.50,"y":59.1},{"p":8,"s":"k","x":710.98,"y":60.3},{"p":8,"s":"k","x":711.47,"y":59.1},{"p":8,"s":"k","x":712.11,"y":54.4},{"p":8,"s":"k","x":712.75,"y":49.8},{"p":8,"s":"k","x":713.40,"y":45.1},{"p":8,"s":"k","x":714.04,"y":39.7},{"p":8,"s":"k","x":714.68,"y":35.8},{"p":8,"s":"k","x":715.33,"y":34.0},{"p":8,"s":"k","x":715.97,"y":32.7},{"p":8,"s":"k","x":716.62,"y":34.3},{"p":8,"s":"k","x":717.26,"y":35.8},{"p":8,"s":"k","x":717.90,"y":37.1},{"p":8,"s":"k","x":718.55,"y":37.4},{"p":8,"s":"k","x":719.19,"y":37.1},{"p":8,"s":"k","x":719.83,"y":37.4},{"p":8,"s":"k","x":720.48,"y":37.1},{"p":8,"s":"k","x":721.12,"y":38.1},{"p":8,"s":"k","x":721.76,"y":39.7},{"p":8,"s":"k","x":722.41,"y":45.1},{"p":8,"s":"k","x":723.05,"y":49.8},{"p":8,"s":"k","x":723.69,"y":52.9},{"p":8,"s":"k","x":724.34,"y":54.1},{"p":8,"s":"k","x":724.98,"y":52.9},{"p":8,"s":"k","x":725.62,"y":50.5},{"p":8,"s":"k","x":726.27,"y":47.4},{"p":8,"s":"k","x":726.91,"y":45.1},{"p":8,"s":"k","x":727.56,"y":43.6},{"p":8,"s":"k","x":728.20,"y":42.3},{"p":8,"s":"k","x":728.84,"y":41.6},{"p":8,"s":"k","x":729.97,"y":40.5},
{"p":8,"s":"c","x":705.03,"y":11.0},{"p":8,"s":"c","x":707.61,"y":11.3},{"p":8,"s":"c","x":708.57,"y":12.6},{"p":8,"s":"c","x":709.86,"y":16.4},{"p":8,"s":"c","x":711.15,"y":21.1},{"p":8,"s":"c","x":712.75,"y":25.7},{"p":8,"s":"c","x":714.36,"y":29.6},{"p":8,"s":"c","x":715.97,"y":32.7},{"p":8,"s":"c","x":717.58,"y":35.8},{"p":8,"s":"c","x":718.55,"y":37.4},{"p":8,"s":"c","x":719.51,"y":36.1},{"p":8,"s":"c","x":720.80,"y":33.5},{"p":8,"s":"c","x":722.08,"y":32.7},{"p":8,"s":"c","x":723.37,"y":31.9},{"p":8,"s":"c","x":724.66,"y":32.7},{"p":8,"s":"c","x":726.59,"y":35.8},{"p":8,"s":"c","x":728.52,"y":38.1},{"p":8,"s":"c","x":729.97,"y":38.6},
{"p":8,"s":"m","x":705.03,"y":12.6},{"p":8,"s":"m","x":706.00,"y":13.3},{"p":8,"s":"m","x":706.96,"y":15.7},{"p":8,"s":"m","x":707.93,"y":21.9},{"p":8,"s":"m","x":708.89,"y":32.7},{"p":8,"s":"m","x":709.86,"y":46.7},{"p":8,"s":"m","x":710.50,"y":55.2},{"p":8,"s":"m","x":710.92,"y":58.3},{"p":8,"s":"m","x":711.47,"y":56.7},{"p":8,"s":"m","x":712.11,"y":51.3},{"p":8,"s":"m","x":713.08,"y":42.0},{"p":8,"s":"m","x":714.04,"y":35.0},{"p":8,"s":"m","x":715.01,"y":31.2},{"p":8,"s":"m","x":715.97,"y":29.6},{"p":8,"s":"m","x":717.58,"y":29.3},{"p":8,"s":"m","x":719.19,"y":28.8},{"p":8,"s":"m","x":720.80,"y":29.3},{"p":8,"s":"m","x":722.73,"y":30.4},{"p":8,"s":"m","x":724.66,"y":32.7},{"p":8,"s":"m","x":727.23,"y":37.1},{"p":8,"s":"m","x":729.97,"y":38.6},
{"p":8,"s":"b","x":714.36,"y":28.1},{"p":8,"s":"b","x":715.97,"y":29.1},{"p":8,"s":"b","x":717.58,"y":29.9},{"p":8,"s":"b","x":719.19,"y":31.2},{"p":8,"s":"b","x":720.80,"y":33.5},{"p":8,"s":"b","x":721.76,"y":36.6},{"p":8,"s":"b","x":722.73,"y":43.6},{"p":8,"s":"b","x":723.69,"y":49.8},{"p":8,"s":"b","x":724.34,"y":52.4},{"p":8,"s":"b","x":724.82,"y":52.9},{"p":8,"s":"b","x":725.95,"y":49.8},{"p":8,"s":"b","x":727.23,"y":45.1},{"p":8,"s":"b","x":728.52,"y":42.0},{"p":8,"s":"b","x":729.97,"y":39.7},
{"p":8,"s":"r","x":713.08,"y":41.2},{"p":8,"s":"r","x":714.36,"y":34.3},{"p":8,"s":"r","x":715.33,"y":31.9},{"p":8,"s":"r","x":716.29,"y":32.7},{"p":8,"s":"r","x":717.26,"y":35.8},{"p":8,"s":"r","x":718.22,"y":38.1},{"p":8,"s":"r","x":718.87,"y":38.9},{"p":8,"s":"r","x":719.83,"y":38.1},{"p":8,"s":"r","x":720.80,"y":37.4},{"p":8,"s":"r","x":721.76,"y":38.9},{"p":8,"s":"r","x":722.73,"y":45.1},{"p":8,"s":"r","x":723.69,"y":50.5},{"p":8,"s":"r","x":724.34,"y":52.6},{"p":8,"s":"r","x":725.30,"y":51.6},{"p":8,"s":"r","x":726.59,"y":47.4},{"p":8,"s":"r","x":727.88,"y":43.6},{"p":8,"s":"r","x":729.97,"y":40.2},

{"p":4,"s":"R","x":70.00,"y":12.4},{"p":4,"s":"R","x":70.17,"y":11.9},{"p":4,"s":"R","x":70.35,"y":12.8},{"p":4,"s":"R","x":70.53,"y":12.7},{"p":4,"s":"R","x":70.71,"y":13.2},{"p":4,"s":"R","x":70.80,"y":12.8},{"p":4,"s":"R","x":70.94,"y":11.2},{"p":4,"s":"R","x":71.07,"y":10.2},{"p":4,"s":"R","x":71.21,"y":11.9},{"p":4,"s":"R","x":71.34,"y":12.4},{"p":4,"s":"R","x":71.52,"y":12.7},{"p":4,"s":"R","x":71.70,"y":12.4},{"p":4,"s":"R","x":71.79,"y":15.6},{"p":4,"s":"R","x":71.97,"y":16.4},{"p":4,"s":"R","x":72.15,"y":18.0},{"p":4,"s":"R","x":72.24,"y":19.7},{"p":4,"s":"R","x":72.42,"y":25.4},{"p":4,"s":"R","x":72.60,"y":29.4},{"p":4,"s":"R","x":72.69,"y":30.2},{"p":4,"s":"R","x":72.78,"y":34.3},{"p":4,"s":"R","x":72.87,"y":37.6},{"p":4,"s":"R","x":72.96,"y":44.1},{"p":4,"s":"R","x":73.14,"y":53.8},{"p":4,"s":"R","x":73.23,"y":61.1},{"p":4,"s":"R","x":73.37,"y":61.1},{"p":4,"s":"R","x":73.46,"y":66.8},{"p":4,"s":"R","x":73.55,"y":71.7},{"p":4,"s":"R","x":73.64,"y":74.1},{"p":4,"s":"R","x":73.70,"y":72.5},{"p":4,"s":"R","x":73.77,"y":75.0},{"p":4,"s":"R","x":73.86,"y":72.5},{"p":4,"s":"R","x":73.95,"y":69.3},{"p":4,"s":"R","x":74.09,"y":70.1},{"p":4,"s":"R","x":74.23,"y":62.0},{"p":4,"s":"R","x":74.36,"y":53.8},{"p":4,"s":"R","x":74.50,"y":50.6},{"p":4,"s":"R","x":74.59,"y":44.1},{"p":4,"s":"R","x":74.72,"y":39.2},{"p":4,"s":"R","x":74.86,"y":34.3},{"p":4,"s":"R","x":74.99,"y":27.8},{"p":4,"s":"R","x":75.13,"y":22.1},{"p":4,"s":"R","x":75.26,"y":21.3},{"p":4,"s":"R","x":75.40,"y":20.5},{"p":4,"s":"R","x":75.58,"y":18.0},{"p":4,"s":"R","x":75.76,"y":17.2},{"p":4,"s":"R","x":75.94,"y":17.2},{"p":4,"s":"R","x":76.12,"y":15.6},{"p":4,"s":"R","x":76.21,"y":13.5},{"p":4,"s":"R","x":76.39,"y":14.8},{"p":4,"s":"R","x":76.57,"y":15.6},{"p":4,"s":"R","x":76.75,"y":17.2},{"p":4,"s":"R","x":76.88,"y":16.4},{"p":4,"s":"R","x":77.00,"y":15.6},
{"p":4,"s":"g","x":70.00,"y":12.0},{"p":4,"s":"g","x":71.61,"y":12.0},{"p":4,"s":"g","x":72.51,"y":12.4},{"p":4,"s":"g","x":73.05,"y":13.5},{"p":4,"s":"g","x":73.59,"y":15.6},{"p":4,"s":"g","x":74.14,"y":17.2},{"p":4,"s":"g","x":74.68,"y":18.0},{"p":4,"s":"g","x":75.22,"y":18.4},{"p":4,"s":"g","x":76.12,"y":18.4},{"p":4,"s":"g","x":77.00,"y":18.5},
{"p":4,"s":"b","x":70.00,"y":12.4},{"p":4,"s":"b","x":70.71,"y":12.7},{"p":4,"s":"b","x":71.16,"y":13.2},{"p":4,"s":"b","x":71.61,"y":14.3},{"p":4,"s":"b","x":72.06,"y":17.2},{"p":4,"s":"b","x":72.42,"y":22.9},{"p":4,"s":"b","x":72.69,"y":29.4},{"p":4,"s":"b","x":72.96,"y":40.8},{"p":4,"s":"b","x":73.23,"y":57.1},{"p":4,"s":"b","x":73.41,"y":70.1},{"p":4,"s":"b","x":73.59,"y":76.6},{"p":4,"s":"b","x":73.70,"y":78.2},{"p":4,"s":"b","x":73.82,"y":76.6},{"p":4,"s":"b","x":74.00,"y":69.3},{"p":4,"s":"b","x":74.23,"y":57.1},{"p":4,"s":"b","x":74.50,"y":44.1},{"p":4,"s":"b","x":74.77,"y":33.5},{"p":4,"s":"b","x":75.04,"y":26.2},{"p":4,"s":"b","x":75.40,"y":21.3},{"p":4,"s":"b","x":75.76,"y":19.3},{"p":4,"s":"b","x":76.12,"y":18.5},{"p":4,"s":"b","x":76.57,"y":18.4},{"p":4,"s":"b","x":77.00,"y":18.4},

{"p":9,"s":"R","x":70.00,"y":15.7},{"p":9,"s":"R","x":70.35,"y":15.3},{"p":9,"s":"R","x":70.71,"y":15.7},{"p":9,"s":"R","x":70.80,"y":13.3},{"p":9,"s":"R","x":70.89,"y":15.3},{"p":9,"s":"R","x":71.07,"y":16.4},{"p":9,"s":"R","x":71.25,"y":19.5},{"p":9,"s":"R","x":71.39,"y":17.2},{"p":9,"s":"R","x":71.48,"y":15.7},{"p":9,"s":"R","x":71.61,"y":16.4},{"p":9,"s":"R","x":71.79,"y":18.0},{"p":9,"s":"R","x":71.97,"y":19.1},{"p":9,"s":"R","x":72.15,"y":20.6},{"p":9,"s":"R","x":72.33,"y":22.6},{"p":9,"s":"R","x":72.51,"y":27.3},{"p":9,"s":"R","x":72.60,"y":29.6},{"p":9,"s":"R","x":72.69,"y":32.7},{"p":9,"s":"R","x":72.78,"y":38.9},{"p":9,"s":"R","x":72.92,"y":48.2},{"p":9,"s":"R","x":73.05,"y":56.0},{"p":9,"s":"R","x":73.23,"y":59.8},{"p":9,"s":"R","x":73.41,"y":70.7},{"p":9,"s":"R","x":73.59,"y":69.1},{"p":9,"s":"R","x":73.77,"y":67.6},{"p":9,"s":"R","x":73.95,"y":67.6},{"p":9,"s":"R","x":74.14,"y":66.0},{"p":9,"s":"R","x":74.32,"y":59.8},{"p":9,"s":"R","x":74.50,"y":54.4},{"p":9,"s":"R","x":74.68,"y":46.7},{"p":9,"s":"R","x":74.86,"y":39.7},{"p":9,"s":"R","x":75.04,"y":32.7},{"p":9,"s":"R","x":75.22,"y":28.1},{"p":9,"s":"R","x":75.40,"y":25.0},{"p":9,"s":"R","x":75.58,"y":20.6},{"p":9,"s":"R","x":75.76,"y":20.3},{"p":9,"s":"R","x":75.94,"y":19.5},{"p":9,"s":"R","x":76.12,"y":20.3},{"p":9,"s":"R","x":76.30,"y":19.1},{"p":9,"s":"R","x":76.48,"y":18.8},{"p":9,"s":"R","x":76.66,"y":17.5},{"p":9,"s":"R","x":76.84,"y":16.4},{"p":9,"s":"R","x":77.00,"y":15.3},
{"p":9,"s":"g","x":70.00,"y":15.3},{"p":9,"s":"g","x":71.61,"y":15.7},{"p":9,"s":"g","x":72.51,"y":15.7},{"p":9,"s":"g","x":73.41,"y":16.4},{"p":9,"s":"g","x":73.86,"y":17.2},{"p":9,"s":"g","x":74.32,"y":18.0},{"p":9,"s":"g","x":75.22,"y":18.8},{"p":9,"s":"g","x":76.12,"y":19.1},{"p":9,"s":"g","x":77.00,"y":19.1},
{"p":9,"s":"b","x":70.00,"y":15.7},{"p":9,"s":"b","x":70.71,"y":16.0},{"p":9,"s":"b","x":71.25,"y":17.2},{"p":9,"s":"b","x":71.79,"y":19.5},{"p":9,"s":"b","x":72.24,"y":22.6},{"p":9,"s":"b","x":72.60,"y":28.1},{"p":9,"s":"b","x":72.87,"y":37.4},{"p":9,"s":"b","x":73.14,"y":51.3},{"p":9,"s":"b","x":73.41,"y":63.7},{"p":9,"s":"b","x":73.64,"y":69.9},{"p":9,"s":"b","x":73.80,"y":71.5},{"p":9,"s":"b","x":73.95,"y":69.9},{"p":9,"s":"b","x":74.23,"y":62.9},{"p":9,"s":"b","x":74.50,"y":52.9},{"p":9,"s":"b","x":74.77,"y":42.0},{"p":9,"s":"b","x":75.04,"y":32.7},{"p":9,"s":"b","x":75.40,"y":25.0},{"p":9,"s":"b","x":75.76,"y":21.9},{"p":9,"s":"b","x":76.12,"y":20.3},{"p":9,"s":"b","x":76.57,"y":19.7},{"p":9,"s":"b","x":77.00,"y":19.4},

{"p":5,"s":"R","x":70.00,"y":14.8},{"p":5,"s":"R","x":70.19,"y":13.5},{"p":5,"s":"R","x":70.37,"y":14.0},{"p":5,"s":"R","x":70.55,"y":12.8},{"p":5,"s":"R","x":70.73,"y":13.2},{"p":5,"s":"R","x":70.82,"y":11.2},{"p":5,"s":"R","x":70.91,"y":14.0},{"p":5,"s":"R","x":71.09,"y":15.1},{"p":5,"s":"R","x":71.27,"y":14.8},{"p":5,"s":"R","x":71.45,"y":14.0},{"p":5,"s":"R","x":71.62,"y":14.8},{"p":5,"s":"R","x":71.80,"y":16.4},{"p":5,"s":"R","x":71.98,"y":15.6},{"p":5,"s":"R","x":72.16,"y":17.2},{"p":5,"s":"R","x":72.34,"y":18.0},{"p":5,"s":"R","x":72.52,"y":22.1},{"p":5,"s":"R","x":72.70,"y":26.2},{"p":5,"s":"R","x":72.88,"y":35.1},{"p":5,"s":"R","x":73.06,"y":45.7},{"p":5,"s":"R","x":73.24,"y":51.4},{"p":5,"s":"R","x":73.33,"y":58.7},{"p":5,"s":"R","x":73.47,"y":70.1},{"p":5,"s":"R","x":73.60,"y":74.1},{"p":5,"s":"R","x":73.73,"y":79.0},{"p":5,"s":"R","x":73.80,"y":77.4},{"p":5,"s":"R","x":73.87,"y":79.8},{"p":5,"s":"R","x":73.96,"y":78.2},{"p":5,"s":"R","x":74.09,"y":73.3},{"p":5,"s":"R","x":74.23,"y":66.8},{"p":5,"s":"R","x":74.32,"y":62.8},{"p":5,"s":"R","x":74.45,"y":62.0},{"p":5,"s":"R","x":74.59,"y":52.2},{"p":5,"s":"R","x":74.72,"y":44.1},{"p":5,"s":"R","x":74.86,"y":40.8},{"p":5,"s":"R","x":74.95,"y":34.3},{"p":5,"s":"R","x":75.04,"y":26.2},{"p":5,"s":"R","x":75.22,"y":22.9},{"p":5,"s":"R","x":75.40,"y":19.7},{"p":5,"s":"R","x":75.57,"y":17.2},{"p":5,"s":"R","x":75.75,"y":16.1},{"p":5,"s":"R","x":75.93,"y":15.6},{"p":5,"s":"R","x":76.11,"y":16.4},{"p":5,"s":"R","x":76.29,"y":16.7},{"p":5,"s":"R","x":76.47,"y":16.4},{"p":5,"s":"R","x":76.65,"y":15.6},{"p":5,"s":"R","x":76.83,"y":16.4},{"p":5,"s":"R","x":76.97,"y":16.1},
{"p":5,"s":"g","x":70.00,"y":11.9},{"p":5,"s":"g","x":71.71,"y":11.9},{"p":5,"s":"g","x":72.61,"y":12.2},{"p":5,"s":"g","x":73.33,"y":12.8},{"p":5,"s":"g","x":73.96,"y":14.5},{"p":5,"s":"g","x":74.59,"y":15.6},{"p":5,"s":"g","x":75.31,"y":16.1},{"p":5,"s":"g","x":76.20,"y":16.4},{"p":5,"s":"g","x":76.97,"y":16.6},
{"p":5,"s":"b","x":70.00,"y":12.0},{"p":5,"s":"b","x":70.82,"y":12.0},{"p":5,"s":"b","x":71.71,"y":13.2},{"p":5,"s":"b","x":72.25,"y":16.1},{"p":5,"s":"b","x":72.61,"y":21.3},{"p":5,"s":"b","x":72.97,"y":34.3},{"p":5,"s":"b","x":73.33,"y":53.8},{"p":5,"s":"b","x":73.60,"y":71.7},{"p":5,"s":"b","x":73.73,"y":79.8},{"p":5,"s":"b","x":73.82,"y":82.3},{"p":5,"s":"b","x":73.96,"y":80.7},{"p":5,"s":"b","x":74.14,"y":71.7},{"p":5,"s":"b","x":74.41,"y":58.7},{"p":5,"s":"b","x":74.68,"y":44.1},{"p":5,"s":"b","x":74.95,"y":31.1},{"p":5,"s":"b","x":75.31,"y":22.1},{"p":5,"s":"b","x":75.75,"y":18.0},{"p":5,"s":"b","x":76.20,"y":16.7},{"p":5,"s":"b","x":76.97,"y":16.3},

{"p":10,"s":"R","x":70.00,"y":7.9},{"p":10,"s":"R","x":70.19,"y":7.1},{"p":10,"s":"R","x":70.37,"y":7.9},{"p":10,"s":"R","x":70.64,"y":7.4},{"p":10,"s":"R","x":70.82,"y":8.2},{"p":10,"s":"R","x":71.09,"y":8.2},{"p":10,"s":"R","x":71.27,"y":7.6},{"p":10,"s":"R","x":71.45,"y":7.9},{"p":10,"s":"R","x":71.62,"y":7.6},{"p":10,"s":"R","x":71.80,"y":8.2},{"p":10,"s":"R","x":71.98,"y":9.1},{"p":10,"s":"R","x":72.12,"y":8.2},{"p":10,"s":"R","x":72.25,"y":11.0},{"p":10,"s":"R","x":72.43,"y":14.1},{"p":10,"s":"R","x":72.61,"y":20.3},{"p":10,"s":"R","x":72.79,"y":25.7},{"p":10,"s":"R","x":72.97,"y":32.7},{"p":10,"s":"R","x":73.15,"y":42.0},{"p":10,"s":"R","x":73.33,"y":52.9},{"p":10,"s":"R","x":73.47,"y":59.1},{"p":10,"s":"R","x":73.60,"y":63.7},{"p":10,"s":"R","x":73.69,"y":67.6},{"p":10,"s":"R","x":73.76,"y":68.8},{"p":10,"s":"R","x":73.85,"y":67.6},{"p":10,"s":"R","x":73.96,"y":65.3},{"p":10,"s":"R","x":74.09,"y":59.1},{"p":10,"s":"R","x":74.23,"y":54.4},{"p":10,"s":"R","x":74.36,"y":49.8},{"p":10,"s":"R","x":74.50,"y":40.5},{"p":10,"s":"R","x":74.68,"y":35.8},{"p":10,"s":"R","x":74.86,"y":28.1},{"p":10,"s":"R","x":75.04,"y":21.9},{"p":10,"s":"R","x":75.22,"y":17.2},{"p":10,"s":"R","x":75.40,"y":14.1},{"p":10,"s":"R","x":75.57,"y":11.8},{"p":10,"s":"R","x":75.75,"y":10.2},{"p":10,"s":"R","x":75.93,"y":9.5},{"p":10,"s":"R","x":76.11,"y":9.1},{"p":10,"s":"R","x":76.29,"y":9.5},{"p":10,"s":"R","x":76.47,"y":8.7},{"p":10,"s":"R","x":76.65,"y":8.2},{"p":10,"s":"R","x":76.83,"y":9.1},{"p":10,"s":"R","x":76.97,"y":8.7},
{"p":10,"s":"g","x":70.00,"y":7.1},{"p":10,"s":"g","x":71.71,"y":7.1},{"p":10,"s":"g","x":72.61,"y":7.4},{"p":10,"s":"g","x":73.51,"y":7.9},{"p":10,"s":"g","x":74.41,"y":8.7},{"p":10,"s":"g","x":75.31,"y":9.1},{"p":10,"s":"g","x":76.20,"y":9.1},{"p":10,"s":"g","x":76.97,"y":9.1},
{"p":10,"s":"b","x":70.00,"y":8.7},{"p":10,"s":"b","x":70.82,"y":9.1},{"p":10,"s":"b","x":71.54,"y":10.2},{"p":10,"s":"b","x":72.07,"y":12.9},{"p":10,"s":"b","x":72.43,"y":16.4},{"p":10,"s":"b","x":72.79,"y":24.2},{"p":10,"s":"b","x":73.06,"y":35.8},{"p":10,"s":"b","x":73.33,"y":51.3},{"p":10,"s":"b","x":73.55,"y":63.7},{"p":10,"s":"b","x":73.69,"y":69.1},{"p":10,"s":"b","x":73.80,"y":71.0},{"p":10,"s":"b","x":73.91,"y":69.9},{"p":10,"s":"b","x":74.14,"y":60.6},{"p":10,"s":"b","x":74.41,"y":46.7},{"p":10,"s":"b","x":74.68,"y":34.3},{"p":10,"s":"b","x":74.95,"y":23.4},{"p":10,"s":"b","x":75.31,"y":16.4},{"p":10,"s":"b","x":75.75,"y":13.0},{"p":10,"s":"b","x":76.20,"y":11.8},{"p":10,"s":"b","x":76.97,"y":11.3}
],
"A":[
{"p":1,"x":43.08,"y":53.7,"tx":44.15,"ty":32.7,"a":321},{"p":1,"x":46.41,"y":65.9,"tx":45.89,"ty":43.4,"a":20},
{"p":6,"x":42.99,"y":61.4,"tx":44.21,"ty":48.8,"a":304},{"p":6,"x":46.29,"y":67.4,"tx":45.44,"ty":54.4,"a":43},
{"p":2,"x":708.64,"y":67.6,"tx":710.24,"ty":56.3,"a":325},{"p":2,"x":717.0,"y":62.0,"tx":717.32,"ty":31.1,"a":357},{"p":2,"x":723.92,"y":60.3,"tx":724.72,"ty":52.2,"a":333},
{"p":7,"x":709.76,"y":66.0,"tx":710.89,"ty":57.5,"a":328},{"p":7,"x":717.32,"y":56.0,"tx":718.13,"ty":38.9,"a":347},{"p":7,"x":723.85,"y":66.5,"tx":724.40,"ty":53.6,"a":348},
{"p":3,"x":708.73,"y":66.8,"tx":710.66,"ty":61.1,"a":300},{"p":3,"x":717.10,"y":59.5,"tx":717.90,"ty":36.7,"a":350},{"p":3,"x":723.69,"y":75.0,"tx":724.18,"ty":54.6,"a":353},
{"p":8,"x":709.54,"y":70.7,"tx":710.66,"ty":60.6,"a":332},{"p":8,"x":717.42,"y":59.1,"tx":718.22,"ty":38.9,"a":349},{"p":8,"x":724.02,"y":66.8,"tx":724.18,"ty":54.4,"a":356},
{"p":4,"x":75.17,"y":65.2,"tx":74.50,"ty":53.0,"a":45},
{"p":9,"x":75.32,"y":48.2,"tx":74.86,"ty":35.0,"a":31},
{"p":5,"x":75.04,"y":61.9,"tx":74.59,"ty":49.8,"a":34},
{"p":10,"x":75.13,"y":42.0,"tx":74.72,"ty":29.6,"a":29}
],
"T":[
{"p":1,"k":"t","x":40.09,"y":93.7,"t":"(a) FA-CB+As"},{"p":1,"k":"a","x":41.74,"y":70.2,"t":"As(III)"},{"p":1,"k":"a","x":41.74,"y":62.0,"t":"(44.40 eV)"},{"p":1,"k":"a","x":45.83,"y":82.4,"t":"As(V)"},{"p":1,"k":"a","x":45.83,"y":74.6,"t":"(45.16 eV)"},
{"p":6,"k":"t","x":40.09,"y":93.0,"t":"(b) FAZ-CB+As"},{"p":6,"k":"a","x":41.40,"y":77.7,"t":"As(III)"},{"p":6,"k":"a","x":41.40,"y":69.8,"t":"(44.50 eV)"},{"p":6,"k":"a","x":45.74,"y":82.3,"t":"As(V)"},{"p":6,"k":"a","x":45.74,"y":75.3,"t":"(45.26 eV)"},
{"p":2,"k":"t","x":705.35,"y":93.7,"t":"(b) FA-CB+As"},{"p":2,"k":"f","x":706.06,"y":80.0,"t":"FeOOH, FeO"},{"p":2,"k":"f","x":706.06,"y":72.7,"t":"(710.95 eV)"},{"p":2,"k":"f","x":714.59,"y":76.6,"t":"α-Fe₂O₃"},{"p":2,"k":"f","x":714.59,"y":66.8,"t":"(718.05 eV)"},{"p":2,"k":"f","x":722.15,"y":75.6,"t":"Fe₃O₄"},{"p":2,"k":"f","x":722.15,"y":65.4,"t":"(724.51 eV)"},
{"p":7,"k":"t","x":705.35,"y":93.0,"t":"(b') FA-CB+As"},{"p":7,"k":"f","x":706.22,"y":79.1,"t":"FeOOH, FeO"},{"p":7,"k":"f","x":706.22,"y":71.6,"t":"(710.79 eV)"},{"p":7,"k":"f","x":714.43,"y":69.3,"t":"α-Fe₂O₃"},{"p":7,"k":"f","x":714.43,"y":60.5,"t":"(717.23 eV)"},{"p":7,"k":"f","x":721.34,"y":80.9,"t":"Fe₃O₄"},{"p":7,"k":"f","x":721.34,"y":71.6,"t":"(724.49 eV)"},
{"p":3,"k":"t","x":705.2,"y":93.7,"t":"(c) FAZ-CB+As"},{"p":3,"k":"f","x":705.68,"y":78.0,"t":"FeOOH, FeO"},{"p":3,"k":"f","x":705.68,"y":70.2,"t":"(710.99 eV)"},{"p":3,"k":"f","x":714.36,"y":72.7,"t":"α-Fe₂O₃"},{"p":3,"k":"f","x":714.36,"y":63.4,"t":"(718.60 eV)"},{"p":3,"k":"f","x":721.44,"y":87.3,"t":"Fe₃O₄"},{"p":3,"k":"f","x":721.44,"y":77.6,"t":"(724.68 eV)"},
{"p":8,"k":"t","x":705.2,"y":93.0,"t":"(c') FAZ-CB+As"},{"p":8,"k":"f","x":706.0,"y":82.3,"t":"FeOOH, FeO"},{"p":8,"k":"f","x":706.0,"y":75.3,"t":"(710.79 eV)"},{"p":8,"k":"f","x":714.52,"y":69.9,"t":"α-Fe₂O₃"},{"p":8,"k":"f","x":714.52,"y":62.9,"t":"(718.49 eV)"},{"p":8,"k":"f","x":722.25,"y":80.8,"t":"Fe₃O₄"},{"p":8,"k":"f","x":722.25,"y":71.5,"t":"(724.45 eV)"},
{"p":4,"k":"t","x":70.05,"y":93.7,"t":"(d) FA-CB"},{"p":4,"k":"l","x":74.81,"y":75.1,"t":"73.70 eV"},
{"p":9,"k":"t","x":70.05,"y":93.0,"t":"(d') FA-CB+As"},{"p":9,"k":"l","x":74.90,"y":55.3,"t":"73.77 eV"},
{"p":5,"k":"t","x":70.05,"y":93.7,"t":"(e) FAZ-CB"},{"p":5,"k":"l","x":74.77,"y":65.4,"t":"73.83 eV"},
{"p":10,"k":"t","x":70.05,"y":93.0,"t":"(e') FAZ-CB+As"},{"p":10,"k":"l","x":74.95,"y":47.4,"t":"73.86 eV"}
],
"I":[
{"p":1,"k":"e","x":46.92,"y":90.5,"t":"As"},{"p":1,"k":"s","x":47.58,"y":90.5,"t":"3d"},
{"p":6,"k":"e","x":46.92,"y":89.3,"t":"As"},{"p":6,"k":"s","x":47.58,"y":89.3,"t":"3d"},
{"p":2,"k":"e","x":726.6,"y":90.5,"t":"Fe"},{"p":2,"k":"s","x":728.68,"y":90.5,"t":"2p"},
{"p":7,"k":"e","x":726.6,"y":89.3,"t":"Fe"},{"p":7,"k":"s","x":728.68,"y":89.3,"t":"2p"},
{"p":3,"k":"e","x":726.6,"y":90.5,"t":"Fe"},{"p":3,"k":"s","x":728.68,"y":90.5,"t":"2p"},
{"p":8,"k":"e","x":726.6,"y":89.3,"t":"Fe"},{"p":8,"k":"s","x":728.68,"y":89.3,"t":"2p"},
{"p":4,"k":"e","x":76.05,"y":90.5,"t":"Al"},{"p":4,"k":"s","x":76.58,"y":90.5,"t":"2p"},
{"p":9,"k":"e","x":76.05,"y":89.3,"t":"Al"},{"p":9,"k":"s","x":76.58,"y":89.3,"t":"2p"},
{"p":5,"k":"e","x":76.05,"y":90.5,"t":"Al"},{"p":5,"k":"s","x":76.58,"y":90.5,"t":"2p"},
{"p":10,"k":"e","x":76.05,"y":89.3,"t":"Al"},{"p":10,"k":"s","x":76.58,"y":89.3,"t":"2p"}
]
},
"spacing":0,
"vconcat":[
{"spacing":0,"bounds":"flush","hconcat":[
{"width":260,"height":205,"encoding":{"x":{"field":"x","type":"quantitative","scale":{"domain":[40,48],"nice":false,"zero":false},"axis":{"values":[40,40.5,41,41.5,42,42.5,43,43.5,44,44.5,45,45.5,46,46.5,47,47.5,48],"labels":false,"title":null}},"y":{"field":"y","type":"quantitative","scale":{"domain":[0,100],"nice":false,"zero":false},"axis":null}},
"layer":[
{"data":{"name":"L"},"transform":[{"filter":"datum.p==1&&(datum.s=='k'||datum.s=='R')"}],"mark":{"type":"line","strokeWidth":1.2,"clip":true},"encoding":{"color":{"field":"s","type":"nominal","scale":{"domain":["k","R","r","b","c","g","m","y"],"range":["#000000","#ff0000","#ff1010","#1515d5","#1de5e8","#2ee82e","#e61ee6","#f0dc00"]},"legend":null}}},
{"data":{"name":"L"},"transform":[{"filter":"datum.p==1&&datum.s!='k'&&datum.s!='R'"}],"mark":{"type":"line","strokeWidth":1.7,"clip":true},"encoding":{"color":{"field":"s","type":"nominal","scale":{"domain":["k","R","r","b","c","g","m","y"],"range":["#000000","#ff0000","#ff1010","#1515d5","#1de5e8","#2ee82e","#e61ee6","#f0dc00"]},"legend":null}}},
{"data":{"name":"A"},"transform":[{"filter":"datum.p==1"}],"mark":{"type":"rule","color":"#000","strokeWidth":1},"encoding":{"x2":{"field":"tx"},"y2":{"field":"ty"}}},
{"data":{"name":"A"},"transform":[{"filter":"datum.p==1"}],"mark":{"type":"point","shape":"triangle-up","filled":true,"color":"#000","opacity":1,"size":190},"encoding":{"angle":{"field":"a","type":"quantitative","scale":null}}},
{"data":{"name":"T"},"transform":[{"filter":"datum.p==1"}],"mark":{"type":"text","font":"Liberation Serif","align":"left","baseline":"middle","color":"#000"},"encoding":{"text":{"field":"t"},"size":{"field":"k","type":"nominal","scale":{"type":"ordinal","domain":["t","a","f","l","e","s"],"range":[17,14,12.5,13.5,21,12]},"legend":null}}},
{"data":{"name":"I"},"transform":[{"filter":"datum.p==1"}],"mark":{"type":"text","font":"Liberation Serif","fontStyle":"italic","align":"left","baseline":"alphabetic","color":"#000"},"encoding":{"text":{"field":"t"},"size":{"field":"k","type":"nominal","scale":{"type":"ordinal","domain":["t","a","f","l","e","s"],"range":[17,14,12.5,13.5,21,12]},"legend":null}}}
]},
{"width":260,"height":205,"encoding":{"x":{"field":"x","type":"quantitative","scale":{"domain":[705,730],"nice":false,"zero":false},"axis":{"values":[705,707.5,710,712.5,715,717.5,720,722.5,725,727.5,730],"labels":false,"title":null}},"y":{"field":"y","type":"quantitative","scale":{"domain":[0,100],"nice":false,"zero":false},"axis":null}},
"layer":[
{"data":{"name":"L"},"transform":[{"filter":"datum.p==2&&(datum.s=='k'||datum.s=='R')"}],"mark":{"type":"line","strokeWidth":1.1,"clip":true},"encoding":{"color":{"field":"s","type":"nominal","scale":{"domain":["k","R","r","b","c","g","m","y"],"range":["#000000","#ff0000","#ff1010","#1515d5","#1de5e8","#2ee82e","#e61ee6","#f0dc00"]},"legend":null}}},
{"data":{"name":"L"},"transform":[{"filter":"datum.p==2&&datum.s!='k'&&datum.s!='R'"}],"mark":{"type":"line","strokeWidth":1.5,"clip":true},"encoding":{"color":{"field":"s","type":"nominal","scale":{"domain":["k","R","r","b","c","g","m","y"],"range":["#000000","#ff0000","#ff1010","#1515d5","#1de5e8","#2ee82e","#e61ee6","#f0dc00"]},"legend":null}}},
{"data":{"name":"A"},"transform":[{"filter":"datum.p==2"}],"mark":{"type":"rule","color":"#000","strokeWidth":0.8},"encoding":{"x2":{"field":"tx"},"y2":{"field":"ty"}}},
{"data":{"name":"A"},"transform":[{"filter":"datum.p==2"}],"mark":{"type":"point","shape":"triangle-up","filled":true,"color":"#000","opacity":1,"size":22},"encoding":{"angle":{"field":"a","type":"quantitative","scale":null}}},
{"data":{"name":"T"},"transform":[{"filter":"datum.p==2"}],"mark":{"type":"text","font":"Liberation Serif","align":"left","baseline":"middle","color":"#000"},"encoding":{"text":{"field":"t"},"size":{"field":"k","type":"nominal","scale":{"type":"ordinal","domain":["t","a","f","l","e","s"],"range":[17,14,12.5,13.5,21,12]},"legend":null}}},
{"data":{"name":"I"},"transform":[{"filter":"datum.p==2"}],"mark":{"type":"text","font":"Liberation Serif","fontStyle":"italic","align":"left","baseline":"alphabetic","color":"#000"},"encoding":{"text":{"field":"t"},"size":{"field":"k","type":"nominal","scale":{"type":"ordinal","domain":["t","a","f","l","e","s"],"range":[17,14,12.5,13.5,21,12]},"legend":null}}}
]},
{"width":260,"height":205,"encoding":{"x":{"field":"x","type":"quantitative","scale":{"domain":[705,730],"nice":false,"zero":false},"axis":{"values":[705,707.5,710,712.5,715,717.5,720,722.5,725,727.5,730],"labels":false,"title":null}},"y":{"field":"y","type":"quantitative","scale":{"domain":[0,100],"nice":false,"zero":false},"axis":null}},
"layer":[
{"data":{"name":"L"},"transform":[{"filter":"datum.p==3&&(datum.s=='k'||datum.s=='R')"}],"mark":{"type":"line","strokeWidth":1.1,"clip":true},"encoding":{"color":{"field":"s","type":"nominal","scale":{"domain":["k","R","r","b","c","g","m","y"],"range":["#000000","#ff0000","#ff1010","#1515d5","#1de5e8","#2ee82e","#e61ee6","#f0dc00"]},"legend":null}}},
{"data":{"name":"L"},"transform":[{"filter":"datum.p==3&&datum.s!='k'&&datum.s!='R'"}],"mark":{"type":"line","strokeWidth":1.5,"clip":true},"encoding":{"color":{"field":"s","type":"nominal","scale":{"domain":["k","R","r","b","c","g","m","y"],"range":["#000000","#ff0000","#ff1010","#1515d5","#1de5e8","#2ee82e","#e61ee6","#f0dc00"]},"legend":null}}},
{"data":{"name":"A"},"transform":[{"filter":"datum.p==3"}],"mark":{"type":"rule","color":"#000","strokeWidth":0.8},"encoding":{"x2":{"field":"tx"},"y2":{"field":"ty"}}},
{"data":{"name":"A"},"transform":[{"filter":"datum.p==3"}],"mark":{"type":"point","shape":"triangle-up","filled":true,"color":"#000","opacity":1,"size":22},"encoding":{"angle":{"field":"a","type":"quantitative","scale":null}}},
{"data":{"name":"T"},"transform":[{"filter":"datum.p==3"}],"mark":{"type":"text","font":"Liberation Serif","align":"left","baseline":"middle","color":"#000"},"encoding":{"text":{"field":"t"},"size":{"field":"k","type":"nominal","scale":{"type":"ordinal","domain":["t","a","f","l","e","s"],"range":[17,14,12.5,13.5,21,12]},"legend":null}}},
{"data":{"name":"I"},"transform":[{"filter":"datum.p==3"}],"mark":{"type":"text","font":"Liberation Serif","fontStyle":"italic","align":"left","baseline":"alphabetic","color":"#000"},"encoding":{"text":{"field":"t"},"size":{"field":"k","type":"nominal","scale":{"type":"ordinal","domain":["t","a","f","l","e","s"],"range":[17,14,12.5,13.5,21,12]},"legend":null}}}
]},
{"width":260,"height":205,"encoding":{"x":{"field":"x","type":"quantitative","scale":{"domain":[70,77],"nice":false,"zero":false},"axis":{"values":[70,70.5,71,71.5,72,72.5,73,73.5,74,74.5,75,75.5,76,76.5,77],"labels":false,"title":null}},"y":{"field":"y","type":"quantitative","scale":{"domain":[0,100],"nice":false,"zero":false},"axis":null}},
"layer":[
{"data":{"name":"L"},"transform":[{"filter":"datum.p==4&&(datum.s=='k'||datum.s=='R')"}],"mark":{"type":"line","strokeWidth":1.5,"clip":true},"encoding":{"color":{"field":"s","type":"nominal","scale":{"domain":["k","R","r","b","c","g","m","y"],"range":["#000000","#ff0000","#ff1010","#1515d5","#1de5e8","#2ee82e","#e61ee6","#f0dc00"]},"legend":null}}},
{"data":{"name":"L"},"transform":[{"filter":"datum.p==4&&datum.s!='k'&&datum.s!='R'"}],"mark":{"type":"line","strokeWidth":2,"clip":true},"encoding":{"color":{"field":"s","type":"nominal","scale":{"domain":["k","R","r","b","c","g","m","y"],"range":["#000000","#ff0000","#ff1010","#1515d5","#1de5e8","#2ee82e","#e61ee6","#f0dc00"]},"legend":null}}},
{"data":{"name":"A"},"transform":[{"filter":"datum.p==4"}],"mark":{"type":"rule","color":"#000","strokeWidth":0.8},"encoding":{"x2":{"field":"tx"},"y2":{"field":"ty"}}},
{"data":{"name":"A"},"transform":[{"filter":"datum.p==4"}],"mark":{"type":"point","shape":"triangle-up","filled":true,"color":"#000","opacity":1,"size":22},"encoding":{"angle":{"field":"a","type":"quantitative","scale":null}}},
{"data":{"name":"T"},"transform":[{"filter":"datum.p==4"}],"mark":{"type":"text","font":"Liberation Serif","align":"left","baseline":"middle","color":"#000"},"encoding":{"text":{"field":"t"},"size":{"field":"k","type":"nominal","scale":{"type":"ordinal","domain":["t","a","f","l","e","s"],"range":[17,14,12.5,13.5,21,12]},"legend":null}}},
{"data":{"name":"I"},"transform":[{"filter":"datum.p==4"}],"mark":{"type":"text","font":"Liberation Serif","fontStyle":"italic","align":"left","baseline":"alphabetic","color":"#000"},"encoding":{"text":{"field":"t"},"size":{"field":"k","type":"nominal","scale":{"type":"ordinal","domain":["t","a","f","l","e","s"],"range":[17,14,12.5,13.5,21,12]},"legend":null}}}
]},
{"width":260,"height":205,"encoding":{"x":{"field":"x","type":"quantitative","scale":{"domain":[70,77],"nice":false,"zero":false},"axis":{"values":[70,70.5,71,71.5,72,72.5,73,73.5,74,74.5,75,75.5,76,76.5,77],"labels":false,"title":null}},"y":{"field":"y","type":"quantitative","scale":{"domain":[0,100],"nice":false,"zero":false},"axis":null}},
"layer":[
{"data":{"name":"L"},"transform":[{"filter":"datum.p==5&&(datum.s=='k'||datum.s=='R')"}],"mark":{"type":"line","strokeWidth":1.5,"clip":true},"encoding":{"color":{"field":"s","type":"nominal","scale":{"domain":["k","R","r","b","c","g","m","y"],"range":["#000000","#ff0000","#ff1010","#1515d5","#1de5e8","#2ee82e","#e61ee6","#f0dc00"]},"legend":null}}},
{"data":{"name":"L"},"transform":[{"filter":"datum.p==5&&datum.s!='k'&&datum.s!='R'"}],"mark":{"type":"line","strokeWidth":2,"clip":true},"encoding":{"color":{"field":"s","type":"nominal","scale":{"domain":["k","R","r","b","c","g","m","y"],"range":["#000000","#ff0000","#ff1010","#1515d5","#1de5e8","#2ee82e","#e61ee6","#f0dc00"]},"legend":null}}},
{"data":{"name":"A"},"transform":[{"filter":"datum.p==5"}],"mark":{"type":"rule","color":"#000","strokeWidth":0.8},"encoding":{"x2":{"field":"tx"},"y2":{"field":"ty"}}},
{"data":{"name":"A"},"transform":[{"filter":"datum.p==5"}],"mark":{"type":"point","shape":"triangle-up","filled":true,"color":"#000","opacity":1,"size":22},"encoding":{"angle":{"field":"a","type":"quantitative","scale":null}}},
{"data":{"name":"T"},"transform":[{"filter":"datum.p==5"}],"mark":{"type":"text","font":"Liberation Serif","align":"left","baseline":"middle","color":"#000"},"encoding":{"text":{"field":"t"},"size":{"field":"k","type":"nominal","scale":{"type":"ordinal","domain":["t","a","f","l","e","s"],"range":[17,14,12.5,13.5,21,12]},"legend":null}}},
{"data":{"name":"I"},"transform":[{"filter":"datum.p==5"}],"mark":{"type":"text","font":"Liberation Serif","fontStyle":"italic","align":"left","baseline":"alphabetic","color":"#000"},"encoding":{"text":{"field":"t"},"size":{"field":"k","type":"nominal","scale":{"type":"ordinal","domain":["t","a","f","l","e","s"],"range":[17,14,12.5,13.5,21,12]},"legend":null}}}
]}
]},
{"spacing":0,"bounds":"flush","hconcat":[
{"width":260,"height":215,"encoding":{"x":{"field":"x","type":"quantitative","scale":{"domain":[40,48],"nice":false,"zero":false},"axis":{"values":[40,40.5,41,41.5,42,42.5,43,43.5,44,44.5,45,45.5,46,46.5,47,47.5,48],"title":"Binding Energy (eV)","labelExpr":"datum.value % 1 === 0 && datum.value < 48 ? datum.label : ''"}},"y":{"field":"y","type":"quantitative","scale":{"domain":[0,100],"nice":false,"zero":false},"axis":null}},
"layer":[
{"data":{"name":"L"},"transform":[{"filter":"datum.p==6&&(datum.s=='k'||datum.s=='R')"}],"mark":{"type":"line","strokeWidth":1.2,"clip":true},"encoding":{"color":{"field":"s","type":"nominal","scale":{"domain":["k","R","r","b","c","g","m","y"],"range":["#000000","#ff0000","#ff1010","#1515d5","#1de5e8","#2ee82e","#e61ee6","#f0dc00"]},"legend":null}}},
{"data":{"name":"L"},"transform":[{"filter":"datum.p==6&&datum.s!='k'&&datum.s!='R'"}],"mark":{"type":"line","strokeWidth":1.7,"clip":true},"encoding":{"color":{"field":"s","type":"nominal","scale":{"domain":["k","R","r","b","c","g","m","y"],"range":["#000000","#ff0000","#ff1010","#1515d5","#1de5e8","#2ee82e","#e61ee6","#f0dc00"]},"legend":null}}},
{"data":{"name":"A"},"transform":[{"filter":"datum.p==6"}],"mark":{"type":"rule","color":"#000","strokeWidth":1},"encoding":{"x2":{"field":"tx"},"y2":{"field":"ty"}}},
{"data":{"name":"A"},"transform":[{"filter":"datum.p==6"}],"mark":{"type":"point","shape":"triangle-up","filled":true,"color":"#000","opacity":1,"size":190},"encoding":{"angle":{"field":"a","type":"quantitative","scale":null}}},
{"data":{"name":"T"},"transform":[{"filter":"datum.p==6"}],"mark":{"type":"text","font":"Liberation Serif","align":"left","baseline":"middle","color":"#000"},"encoding":{"text":{"field":"t"},"size":{"field":"k","type":"nominal","scale":{"type":"ordinal","domain":["t","a","f","l","e","s"],"range":[17,14,12.5,13.5,21,12]},"legend":null}}},
{"data":{"name":"I"},"transform":[{"filter":"datum.p==6"}],"mark":{"type":"text","font":"Liberation Serif","fontStyle":"italic","align":"left","baseline":"alphabetic","color":"#000"},"encoding":{"text":{"field":"t"},"size":{"field":"k","type":"nominal","scale":{"type":"ordinal","domain":["t","a","f","l","e","s"],"range":[17,14,12.5,13.5,21,12]},"legend":null}}}
]},
{"width":260,"height":215,"encoding":{"x":{"field":"x","type":"quantitative","scale":{"domain":[705,730],"nice":false,"zero":false},"axis":{"values":[705,707.5,710,712.5,715,717.5,720,722.5,725,727.5,730],"title":"Binding Energy (eV)","labelExpr":"datum.value % 5 === 0 && datum.value < 730 ? datum.label : ''"}},"y":{"field":"y","type":"quantitative","scale":{"domain":[0,100],"nice":false,"zero":false},"axis":null}},
"layer":[
{"data":{"name":"L"},"transform":[{"filter":"datum.p==7&&(datum.s=='k'||datum.s=='R')"}],"mark":{"type":"line","strokeWidth":1.1,"clip":true},"encoding":{"color":{"field":"s","type":"nominal","scale":{"domain":["k","R","r","b","c","g","m","y"],"range":["#000000","#ff0000","#ff1010","#1515d5","#1de5e8","#2ee82e","#e61ee6","#f0dc00"]},"legend":null}}},
{"data":{"name":"L"},"transform":[{"filter":"datum.p==7&&datum.s!='k'&&datum.s!='R'"}],"mark":{"type":"line","strokeWidth":1.5,"clip":true},"encoding":{"color":{"field":"s","type":"nominal","scale":{"domain":["k","R","r","b","c","g","m","y"],"range":["#000000","#ff0000","#ff1010","#1515d5","#1de5e8","#2ee82e","#e61ee6","#f0dc00"]},"legend":null}}},
{"data":{"name":"A"},"transform":[{"filter":"datum.p==7"}],"mark":{"type":"rule","color":"#000","strokeWidth":0.8},"encoding":{"x2":{"field":"tx"},"y2":{"field":"ty"}}},
{"data":{"name":"A"},"transform":[{"filter":"datum.p==7"}],"mark":{"type":"point","shape":"triangle-up","filled":true,"color":"#000","opacity":1,"size":22},"encoding":{"angle":{"field":"a","type":"quantitative","scale":null}}},
{"data":{"name":"T"},"transform":[{"filter":"datum.p==7"}],"mark":{"type":"text","font":"Liberation Serif","align":"left","baseline":"middle","color":"#000"},"encoding":{"text":{"field":"t"},"size":{"field":"k","type":"nominal","scale":{"type":"ordinal","domain":["t","a","f","l","e","s"],"range":[17,14,12.5,13.5,21,12]},"legend":null}}},
{"data":{"name":"I"},"transform":[{"filter":"datum.p==7"}],"mark":{"type":"text","font":"Liberation Serif","fontStyle":"italic","align":"left","baseline":"alphabetic","color":"#000"},"encoding":{"text":{"field":"t"},"size":{"field":"k","type":"nominal","scale":{"type":"ordinal","domain":["t","a","f","l","e","s"],"range":[17,14,12.5,13.5,21,12]},"legend":null}}}
]},
{"width":260,"height":215,"encoding":{"x":{"field":"x","type":"quantitative","scale":{"domain":[705,730],"nice":false,"zero":false},"axis":{"values":[705,707.5,710,712.5,715,717.5,720,722.5,725,727.5,730],"title":"Binding Energy (eV)","labelExpr":"datum.value % 5 === 0 && datum.value < 730 ? datum.label : ''"}},"y":{"field":"y","type":"quantitative","scale":{"domain":[0,100],"nice":false,"zero":false},"axis":null}},
"layer":[
{"data":{"name":"L"},"transform":[{"filter":"datum.p==8&&(datum.s=='k'||datum.s=='R')"}],"mark":{"type":"line","strokeWidth":1.1,"clip":true},"encoding":{"color":{"field":"s","type":"nominal","scale":{"domain":["k","R","r","b","c","g","m","y"],"range":["#000000","#ff0000","#ff1010","#1515d5","#1de5e8","#2ee82e","#e61ee6","#f0dc00"]},"legend":null}}},
{"data":{"name":"L"},"transform":[{"filter":"datum.p==8&&datum.s!='k'&&datum.s!='R'"}],"mark":{"type":"line","strokeWidth":1.5,"clip":true},"encoding":{"color":{"field":"s","type":"nominal","scale":{"domain":["k","R","r","b","c","g","m","y"],"range":["#000000","#ff0000","#ff1010","#1515d5","#1de5e8","#2ee82e","#e61ee6","#f0dc00"]},"legend":null}}},
{"data":{"name":"A"},"transform":[{"filter":"datum.p==8"}],"mark":{"type":"rule","color":"#000","strokeWidth":0.8},"encoding":{"x2":{"field":"tx"},"y2":{"field":"ty"}}},
{"data":{"name":"A"},"transform":[{"filter":"datum.p==8"}],"mark":{"type":"point","shape":"triangle-up","filled":true,"color":"#000","opacity":1,"size":22},"encoding":{"angle":{"field":"a","type":"quantitative","scale":null}}},
{"data":{"name":"T"},"transform":[{"filter":"datum.p==8"}],"mark":{"type":"text","font":"Liberation Serif","align":"left","baseline":"middle","color":"#000"},"encoding":{"text":{"field":"t"},"size":{"field":"k","type":"nominal","scale":{"type":"ordinal","domain":["t","a","f","l","e","s"],"range":[17,14,12.5,13.5,21,12]},"legend":null}}},
{"data":{"name":"I"},"transform":[{"filter":"datum.p==8"}],"mark":{"type":"text","font":"Liberation Serif","fontStyle":"italic","align":"left","baseline":"alphabetic","color":"#000"},"encoding":{"text":{"field":"t"},"size":{"field":"k","type":"nominal","scale":{"type":"ordinal","domain":["t","a","f","l","e","s"],"range":[17,14,12.5,13.5,21,12]},"legend":null}}}
]},
{"width":260,"height":215,"encoding":{"x":{"field":"x","type":"quantitative","scale":{"domain":[70,77],"nice":false,"zero":false},"axis":{"values":[70,70.5,71,71.5,72,72.5,73,73.5,74,74.5,75,75.5,76,76.5,77],"title":"Binding Energy (eV)","labelExpr":"datum.value % 1 === 0 && datum.value < 77 ? datum.label : ''"}},"y":{"field":"y","type":"quantitative","scale":{"domain":[0,100],"nice":false,"zero":false},"axis":null}},
"layer":[
{"data":{"name":"L"},"transform":[{"filter":"datum.p==9&&(datum.s=='k'||datum.s=='R')"}],"mark":{"type":"line","strokeWidth":1.5,"clip":true},"encoding":{"color":{"field":"s","type":"nominal","scale":{"domain":["k","R","r","b","c","g","m","y"],"range":["#000000","#ff0000","#ff1010","#1515d5","#1de5e8","#2ee82e","#e61ee6","#f0dc00"]},"legend":null}}},
{"data":{"name":"L"},"transform":[{"filter":"datum.p==9&&datum.s!='k'&&datum.s!='R'"}],"mark":{"type":"line","strokeWidth":2,"clip":true},"encoding":{"color":{"field":"s","type":"nominal","scale":{"domain":["k","R","r","b","c","g","m","y"],"range":["#000000","#ff0000","#ff1010","#1515d5","#1de5e8","#2ee82e","#e61ee6","#f0dc00"]},"legend":null}}},
{"data":{"name":"A"},"transform":[{"filter":"datum.p==9"}],"mark":{"type":"rule","color":"#000","strokeWidth":0.8},"encoding":{"x2":{"field":"tx"},"y2":{"field":"ty"}}},
{"data":{"name":"A"},"transform":[{"filter":"datum.p==9"}],"mark":{"type":"point","shape":"triangle-up","filled":true,"color":"#000","opacity":1,"size":22},"encoding":{"angle":{"field":"a","type":"quantitative","scale":null}}},
{"data":{"name":"T"},"transform":[{"filter":"datum.p==9"}],"mark":{"type":"text","font":"Liberation Serif","align":"left","baseline":"middle","color":"#000"},"encoding":{"text":{"field":"t"},"size":{"field":"k","type":"nominal","scale":{"type":"ordinal","domain":["t","a","f","l","e","s"],"range":[17,14,12.5,13.5,21,12]},"legend":null}}},
{"data":{"name":"I"},"transform":[{"filter":"datum.p==9"}],"mark":{"type":"text","font":"Liberation Serif","fontStyle":"italic","align":"left","baseline":"alphabetic","color":"#000"},"encoding":{"text":{"field":"t"},"size":{"field":"k","type":"nominal","scale":{"type":"ordinal","domain":["t","a","f","l","e","s"],"range":[17,14,12.5,13.5,21,12]},"legend":null}}}
]},
{"width":260,"height":215,"encoding":{"x":{"field":"x","type":"quantitative","scale":{"domain":[70,77],"nice":false,"zero":false},"axis":{"values":[70,70.5,71,71.5,72,72.5,73,73.5,74,74.5,75,75.5,76,76.5,77],"title":"Binding Energy (eV)","labelExpr":"datum.value % 1 === 0 ? datum.label : ''"}},"y":{"field":"y","type":"quantitative","scale":{"domain":[0,100],"nice":false,"zero":false},"axis":null}},
"layer":[
{"data":{"name":"L"},"transform":[{"filter":"datum.p==10&&(datum.s=='k'||datum.s=='R')"}],"mark":{"type":"line","strokeWidth":1.5,"clip":true},"encoding":{"color":{"field":"s","type":"nominal","scale":{"domain":["k","R","r","b","c","g","m","y"],"range":["#000000","#ff0000","#ff1010","#1515d5","#1de5e8","#2ee82e","#e61ee6","#f0dc00"]},"legend":null}}},
{"data":{"name":"L"},"transform":[{"filter":"datum.p==10&&datum.s!='k'&&datum.s!='R'"}],"mark":{"type":"line","strokeWidth":2,"clip":true},"encoding":{"color":{"field":"s","type":"nominal","scale":{"domain":["k","R","r","b","c","g","m","y"],"range":["#000000","#ff0000","#ff1010","#1515d5","#1de5e8","#2ee82e","#e61ee6","#f0dc00"]},"legend":null}}},
{"data":{"name":"A"},"transform":[{"filter":"datum.p==10"}],"mark":{"type":"rule","color":"#000","strokeWidth":0.8},"encoding":{"x2":{"field":"tx"},"y2":{"field":"ty"}}},
{"data":{"name":"A"},"transform":[{"filter":"datum.p==10"}],"mark":{"type":"point","shape":"triangle-up","filled":true,"color":"#000","opacity":1,"size":22},"encoding":{"angle":{"field":"a","type":"quantitative","scale":null}}},
{"data":{"name":"T"},"transform":[{"filter":"datum.p==10"}],"mark":{"type":"text","font":"Liberation Serif","align":"left","baseline":"middle","color":"#000"},"encoding":{"text":{"field":"t"},"size":{"field":"k","type":"nominal","scale":{"type":"ordinal","domain":["t","a","f","l","e","s"],"range":[17,14,12.5,13.5,21,12]},"legend":null}}},
{"data":{"name":"I"},"transform":[{"filter":"datum.p==10"}],"mark":{"type":"text","font":"Liberation Serif","fontStyle":"italic","align":"left","baseline":"alphabetic","color":"#000"},"encoding":{"text":{"field":"t"},"size":{"field":"k","type":"nominal","scale":{"type":"ordinal","domain":["t","a","f","l","e","s"],"range":[17,14,12.5,13.5,21,12]},"legend":null}}}
]}
]}
]
}
